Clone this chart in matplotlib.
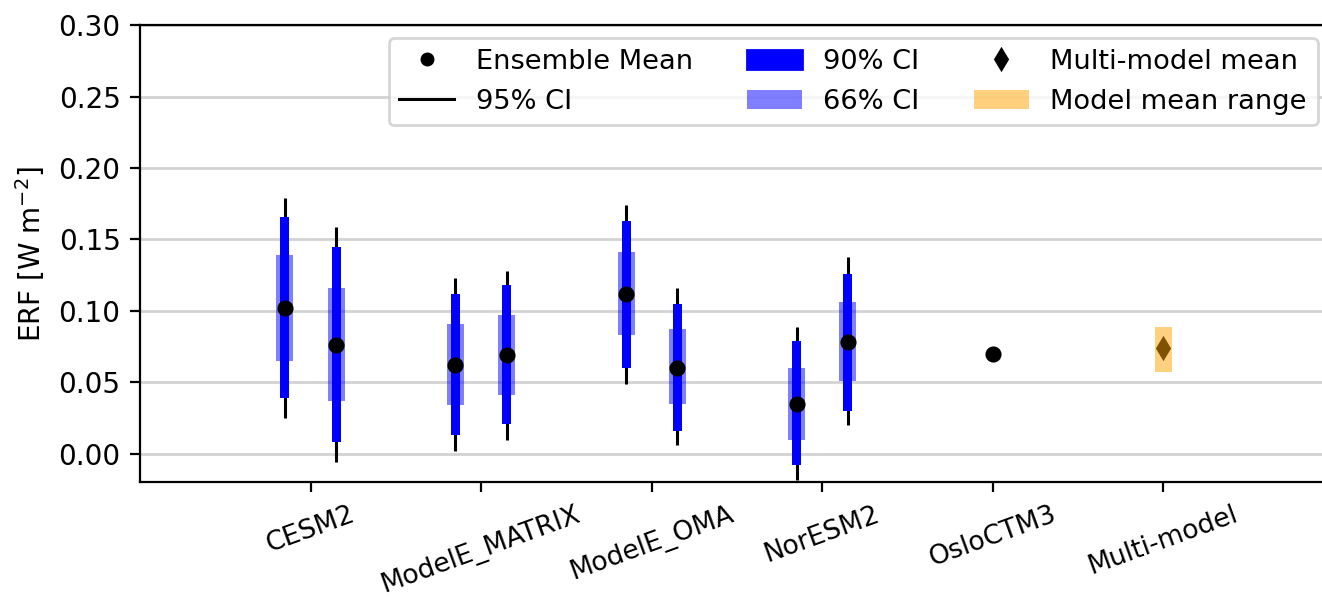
import numpy as np
import matplotlib
matplotlib.use('Agg')
import matplotlib.pyplot as plt
from matplotlib.lines import Line2D
from matplotlib.patches import Patch

models = ['CESM2', 'ModelE_MATRIX', 'ModelE_OMA', 'NorESM2', 'OsloCTM3', 'Multi-model']

mean_a = [0.102, 0.062, 0.112, 0.035]
mean_b = [0.076, 0.069, 0.060, 0.078]
ci95_a = [(0.025, 0.179), (0.002, 0.123), (0.049, 0.174), (-0.018, 0.089)]
ci95_b = [(-0.006, 0.159), (0.010, 0.128), (0.006, 0.116), (0.020, 0.138)]
ci90_a = [(0.039, 0.166), (0.013, 0.112), (0.060, 0.163), (-0.008, 0.079)]
ci90_b = [(0.008, 0.145), (0.021, 0.118), (0.016, 0.105), (0.030, 0.126)]
ci66_a = [(0.065, 0.139), (0.034, 0.091), (0.083, 0.141), (0.010, 0.060)]
ci66_b = [(0.037, 0.116), (0.041, 0.097), (0.035, 0.087), (0.051, 0.106)]

oslo_mean = 0.070
mm_mean = 0.074
mm_range = (0.057, 0.089)

plt.rcParams['font.size'] = 9.6
fig = plt.figure(figsize=(6.61, 2.985), dpi=200)
ax = fig.add_axes([0.1059, 0.192, 0.903, 0.766])

x = np.arange(len(models))
off = 0.15

def draw_member(xp, m, c95, c90, c66):
    ax.vlines(xp, c95[0], c95[1], color='k', lw=1.1, zorder=2)
    ax.bar(xp, c90[1] - c90[0], bottom=c90[0], width=0.053, color='blue', zorder=3)
    ax.bar(xp, c66[1] - c66[0], bottom=c66[0], width=0.1, color='blue', alpha=0.5, lw=0, zorder=3)
    ax.plot(xp, m, 'o', color='k', ms=4.8, zorder=4)

for i in range(4):
    draw_member(x[i] - off, mean_a[i], ci95_a[i], ci90_a[i], ci66_a[i])
    draw_member(x[i] + off, mean_b[i], ci95_b[i], ci90_b[i], ci66_b[i])

ax.plot(x[4], oslo_mean, 'o', color='k', ms=4.8, zorder=4)

ax.plot(x[5], mm_mean, 'd', color='k', ms=5, zorder=3)
ax.bar(x[5], mm_range[1] - mm_range[0], bottom=mm_range[0], width=0.1,
       color='orange', alpha=0.5, lw=0, zorder=4)

ax.set_xlim(-1, 6)
ax.set_ylim(-0.02, 0.30)
ax.set_yticks(np.arange(0, 0.301, 0.05))
ax.set_xticks(x)
ax.set_xticklabels(models, rotation=20, ha='center')
ax.tick_params(axis='y', labelsize=10)
ax.spines['right'].set_visible(False)
ax.yaxis.grid(True, color='lightgray', lw=1)
ax.set_axisbelow(True)
ax.set_ylabel('ERF [W m$^{-2}$]', fontsize=10)

handles = [
    Line2D([], [], marker='o', color='k', ls='', ms=4),
    Line2D([], [], color='k', lw=1.1),
    Patch(color='blue'),
    Patch(color='blue', alpha=0.5, lw=0),
    Line2D([], [], marker='d', color='k', ls='', ms=5),
    Patch(color='orange', alpha=0.5, lw=0),
]
labels = ['Ensemble Mean', '95% CI', '90% CI', '66% CI', 'Multi-model mean', 'Model mean range']
ax.legend(handles, labels, ncol=3, loc='upper right', borderaxespad=0, fontsize=9.8,
          bbox_to_anchor=((1318 - 140) / 1194, (482 - 38) / 457))

fig.savefig('out.png', dpi=200)
